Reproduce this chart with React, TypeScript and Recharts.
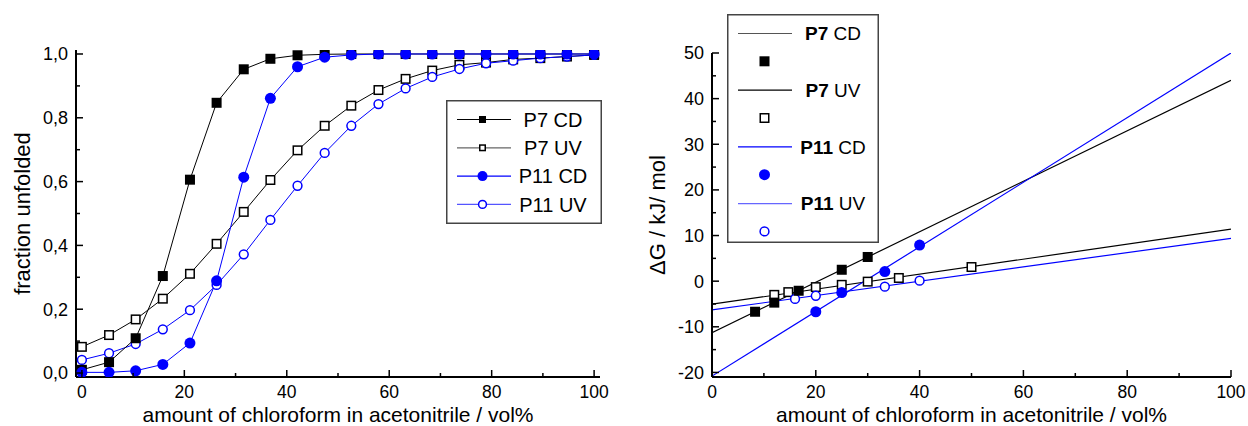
import React from 'react';
import { LineChart, ComposedChart, Line, Scatter, XAxis, YAxis, Legend } from 'recharts';

const FONT = '"Liberation Sans", Arial, Helvetica, sans-serif';
const BLUE = '#0000ff';

// left panel: fraction unfolded vs. chloroform content
const vol = [0, 5.3, 10.5, 15.8, 21.1, 26.3, 31.6, 36.8, 42.1, 47.4, 52.6, 57.9, 63.2, 68.4, 73.7, 78.9, 84.2, 89.5, 94.7, 100];
const p7CD = [0.01, 0.034, 0.109, 0.304, 0.606, 0.847, 0.952, 0.985, 0.996, 0.999, 1, 1, 1, 1, 1, 1, 1, 1, 1, 1];
const p7UV = [0.082, 0.119, 0.168, 0.233, 0.311, 0.405, 0.505, 0.605, 0.698, 0.775, 0.838, 0.887, 0.922, 0.948, 0.966, 0.973, 0.983, 0.987, 0.992, 0.997];
const p11CD = [0.002, 0.002, 0.007, 0.027, 0.094, 0.289, 0.614, 0.861, 0.96, 0.99, 0.997, 1, 1, 1, 1, 1, 1, 1, 1, 1];
const p11UV = [0.041, 0.062, 0.091, 0.137, 0.197, 0.276, 0.372, 0.48, 0.587, 0.69, 0.775, 0.843, 0.892, 0.928, 0.953, 0.971, 0.979, 0.987, 0.992, 0.997];

const leftXTicks = [0, 10, 20, 30, 40, 50, 60, 70, 80, 90, 100];
const leftYTicks = [0, 0.1, 0.2, 0.3, 0.4, 0.5, 0.6, 0.7, 0.8, 0.9, 1.0];

// right panel: dG vs. chloroform content, points + linear fits
const p7CDx = [8.3, 12, 16.7, 25, 30];
const p7CDdg = [-6.7, -4.7, -2.1, 2.5, 5.3];
const p7UVx = [12, 14.7, 20, 25, 30, 36, 50];
const p7UVdg = [-3.0, -2.4, -1.3, -0.8, -0.1, 0.7, 3.1];
const p11CDx = [20, 25, 33.3, 40];
const p11CDdg = [-6.7, -2.5, 2.1, 7.9];
const p11UVx = [16, 20, 33.3, 40];
const p11UVdg = [-3.9, -3.2, -1.2, 0.1];

const fitX = [0, 100];
const p7CDfit = [-11.3, 44.0];
const p7UVfit = [-5.05, 11.4];
const p11CDfit = [-20.8, 50.0];
const p11UVfit = [-6.3, 9.4];

const rightXTicks = [0, 10, 20, 30, 40, 50, 60, 70, 80, 90, 100];
const rightYTicks = [-20, -15, -10, -5, 0, 5, 10, 15, 20, 25, 30, 35, 40, 45, 50];

const leftRows = vol.map((x, i) => ({ x, p7CD: p7CD[i], p7UV: p7UV[i], p11CD: p11CD[i], p11UV: p11UV[i] }));
const pts = (xs: number[], ys: number[]) => xs.map((x, i) => ({ x, y: ys[i] }));

function Marker({ cx, cy, kind, size = 10 }: any) {
  const h = size / 2;
  if (cx == null || cy == null) return null;
  if (kind === 'fsq') return <rect x={cx - h} y={cy - h} width={size} height={size} fill="#000" />;
  if (kind === 'osq') return <rect x={cx - h + 0.75} y={cy - h + 0.75} width={size - 1.5} height={size - 1.5} fill="#fff" stroke="#000" strokeWidth={1.5} />;
  if (kind === 'fci') return <circle cx={cx} cy={cy} r={h + 0.5} fill={BLUE} />;
  return <circle cx={cx} cy={cy} r={h - 0.6} fill="#fff" stroke={BLUE} strokeWidth={1.5} />;
}

const dotOf = (kind: string) => (p: any) => <Marker key={`d${p.index}`} cx={p.cx} cy={p.cy} kind={kind} />;
const shapeOf = (kind: string) => (p: any) => <Marker cx={p.cx} cy={p.cy} kind={kind} />;

const txt = { fontFamily: FONT, fill: '#000' };

function xTick(isMajor: (v: number) => boolean) {
  return (props: any) => {
    const { x, y, payload } = props;
    const major = isMajor(payload.value);
    return (
      <g>
        <line x1={x} x2={x} y1={y} y2={y - (major ? 7 : 4)} stroke="#000" strokeWidth={1.5} />
        {major && <text x={x} y={y + 21} textAnchor="middle" fontSize={17.5} {...txt}>{String(payload.value)}</text>}
      </g>
    );
  };
}

function yTick(isMajor: (v: number) => boolean, fmt: (v: number) => string) {
  return (props: any) => {
    const { x, y, payload } = props;
    const major = isMajor(payload.value);
    return (
      <g>
        <line x1={x} x2={x + (major ? 7 : 4)} y1={y} y2={y} stroke="#000" strokeWidth={1.5} />
        {major && <text x={x - 8} y={y} dy="0.36em" textAnchor="end" fontSize={18} {...txt}>{fmt(payload.value)}</text>}
      </g>
    );
  };
}

function XTitle({ viewBox, value }: any) {
  const { x, y, width } = viewBox;
  return <text x={x + width / 2} y={y + 44.5} textAnchor="middle" fontSize={21} {...txt}>{value}</text>;
}

function YTitle({ viewBox, value, base }: any) {
  const { x, y, height } = viewBox;
  const cx = x + base;
  const cy = y + height / 2;
  return <text x={cx} y={cy} transform={`rotate(-90 ${cx} ${cy})`} textAnchor="middle" fontSize={22} {...txt}>{value}</text>;
}

const leftLegend = [
  { name: 'P7 CD', kind: 'fsq', line: '#000' },
  { name: 'P7 UV', kind: 'osq', line: '#666' },
  { name: 'P11 CD', kind: 'fci', line: BLUE },
  { name: 'P11 UV', kind: 'oci', line: '#5555ff' },
];

const rightLegend = [
  { bold: 'P7', rest: ' CD', kind: 'fsq', line: '#555' },
  { bold: 'P7', rest: ' UV', kind: 'osq', line: '#000' },
  { bold: 'P11', rest: ' CD', kind: 'fci', line: BLUE },
  { bold: 'P11', rest: ' UV', kind: 'oci', line: '#6666ff' },
];

function LeftLegendBox() {
  const w = 156, h = 124;
  return (
    <svg width={w} height={h} style={{ display: 'block' }}>
      <rect x={0.75} y={0.75} width={w - 1.5} height={h - 1.5} fill="#fff" stroke="#444" strokeWidth={1.5} />
      {leftLegend.map((e, i) => {
        const cy = 19.5 + i * 28.3;
        return (
          <g key={e.name}>
            <line x1={11} x2={65} y1={cy} y2={cy} stroke={e.line} strokeWidth={1.2} />
            <Marker cx={36.5} cy={cy} kind={e.kind} size={e.kind.endsWith('sq') ? 7 : 9} />
            <text x={107} y={cy} dy="0.36em" textAnchor="middle" fontSize={20} {...txt}>{e.name}</text>
          </g>
        );
      })}
    </svg>
  );
}

function RightLegendBox() {
  const w = 152, h = 229;
  return (
    <svg width={w} height={h} style={{ display: 'block' }}>
      <rect x={0.75} y={0.75} width={w - 1.5} height={h - 1.5} fill="#fff" stroke="#444" strokeWidth={1.5} />
      {rightLegend.map((e, i) => {
        const cy = 19.5 + i * 56.7;
        return (
          <g key={e.bold + e.rest}>
            <line x1={11} x2={65} y1={cy} y2={cy} stroke={e.line} strokeWidth={1.2} />
            <text x={106} y={cy} dy="0.36em" textAnchor="middle" fontSize={19} {...txt}>
              <tspan fontWeight="bold">{e.bold}</tspan>{e.rest}
            </text>
            <Marker cx={37.5} cy={cy + 27.8} kind={e.kind} size={10} />
          </g>
        );
      })}
    </svg>
  );
}

const axisLine = { stroke: '#000', strokeWidth: 2 };
const legendPos = { layout: 'vertical' as const, align: 'center' as const, verticalAlign: 'middle' as const };

export default function App() {
  return (
    <div style={{ position: 'absolute', left: 0, top: 0, width: 1248, height: 426, background: '#fff' }}>
      <div style={{ position: 'absolute', left: 0, top: 0 }}>
        <LineChart width={620} height={426} data={leftRows} margin={{ top: 50, right: 20, left: 0, bottom: 0 }}>
          <XAxis
            type="number" dataKey="x" domain={[-1.15, 101.15]} allowDataOverflow ticks={leftXTicks} interval={0}
            height={49} tickSize={0} tickMargin={0} axisLine={axisLine} tickLine={false}
            tick={xTick((v) => v % 20 === 0)}
            label={<XTitle value="amount of chloroform in acetonitrile / vol%" />}
          />
          <YAxis
            type="number" domain={[-0.0125, 1.0125]} allowDataOverflow ticks={leftYTicks} interval={0}
            width={76} tickSize={0} tickMargin={0} axisLine={axisLine} tickLine={false}
            tick={yTick((v) => Math.round(v * 10) % 2 === 0, (v) => v.toFixed(1).replace('.', ','))}
            label={<YTitle value="fraction unfolded" base={30} />}
          />
          <Line dataKey="p7UV" stroke="#000" strokeWidth={1} dot={dotOf('osq')} isAnimationActive={false} />
          <Line dataKey="p11UV" stroke={BLUE} strokeWidth={1} dot={dotOf('oci')} isAnimationActive={false} />
          <Line dataKey="p7CD" stroke="#000" strokeWidth={1} dot={dotOf('fsq')} isAnimationActive={false} />
          <Line dataKey="p11CD" stroke={BLUE} strokeWidth={1} dot={dotOf('fci')} isAnimationActive={false} />
          <Legend {...legendPos} wrapperStyle={{ left: 446, top: 100, width: 156, height: 124 }} content={() => <LeftLegendBox />} />
        </LineChart>
      </div>

      <div style={{ position: 'absolute', left: 620, top: 0 }}>
        <ComposedChart width={628} height={426} margin={{ top: 53, right: 17, left: 0, bottom: 0 }}>
          <XAxis
            type="number" dataKey="x" domain={[0, 100]} allowDataOverflow ticks={rightXTicks} interval={0}
            height={49} tickSize={0} tickMargin={0} axisLine={axisLine} tickLine={false}
            tick={xTick((v) => v % 20 === 0)}
            label={<XTitle value="amount of chloroform in acetonitrile / vol%" />}
          />
          <YAxis
            type="number" dataKey="y" domain={[-21, 50]} allowDataOverflow ticks={rightYTicks} interval={0}
            width={92} tickSize={0} tickMargin={0} axisLine={axisLine} tickLine={false}
            tick={yTick((v) => v % 10 === 0, (v) => String(v))}
            label={<YTitle value="ΔG / kJ/ mol" base={45} />}
          />
          <Line data={pts(fitX, p7CDfit)} dataKey="y" stroke="#000" strokeWidth={1.2} dot={false} isAnimationActive={false} />
          <Line data={pts(fitX, p7UVfit)} dataKey="y" stroke="#000" strokeWidth={1.2} dot={false} isAnimationActive={false} />
          <Line data={pts(fitX, p11CDfit)} dataKey="y" stroke={BLUE} strokeWidth={1.2} dot={false} isAnimationActive={false} />
          <Line data={pts(fitX, p11UVfit)} dataKey="y" stroke={BLUE} strokeWidth={1.2} dot={false} isAnimationActive={false} />
          <Scatter data={pts(p7UVx, p7UVdg)} dataKey="y" shape={shapeOf('osq')} isAnimationActive={false} />
          <Scatter data={pts(p11UVx, p11UVdg)} dataKey="y" shape={shapeOf('oci')} isAnimationActive={false} />
          <Scatter data={pts(p7CDx, p7CDdg)} dataKey="y" shape={shapeOf('fsq')} isAnimationActive={false} />
          <Scatter data={pts(p11CDx, p11CDdg)} dataKey="y" shape={shapeOf('fci')} isAnimationActive={false} />
          <Legend {...legendPos} wrapperStyle={{ left: 107, top: 14, width: 152, height: 229 }} content={() => <RightLegendBox />} />
        </ComposedChart>
      </div>
    </div>
  );
}
